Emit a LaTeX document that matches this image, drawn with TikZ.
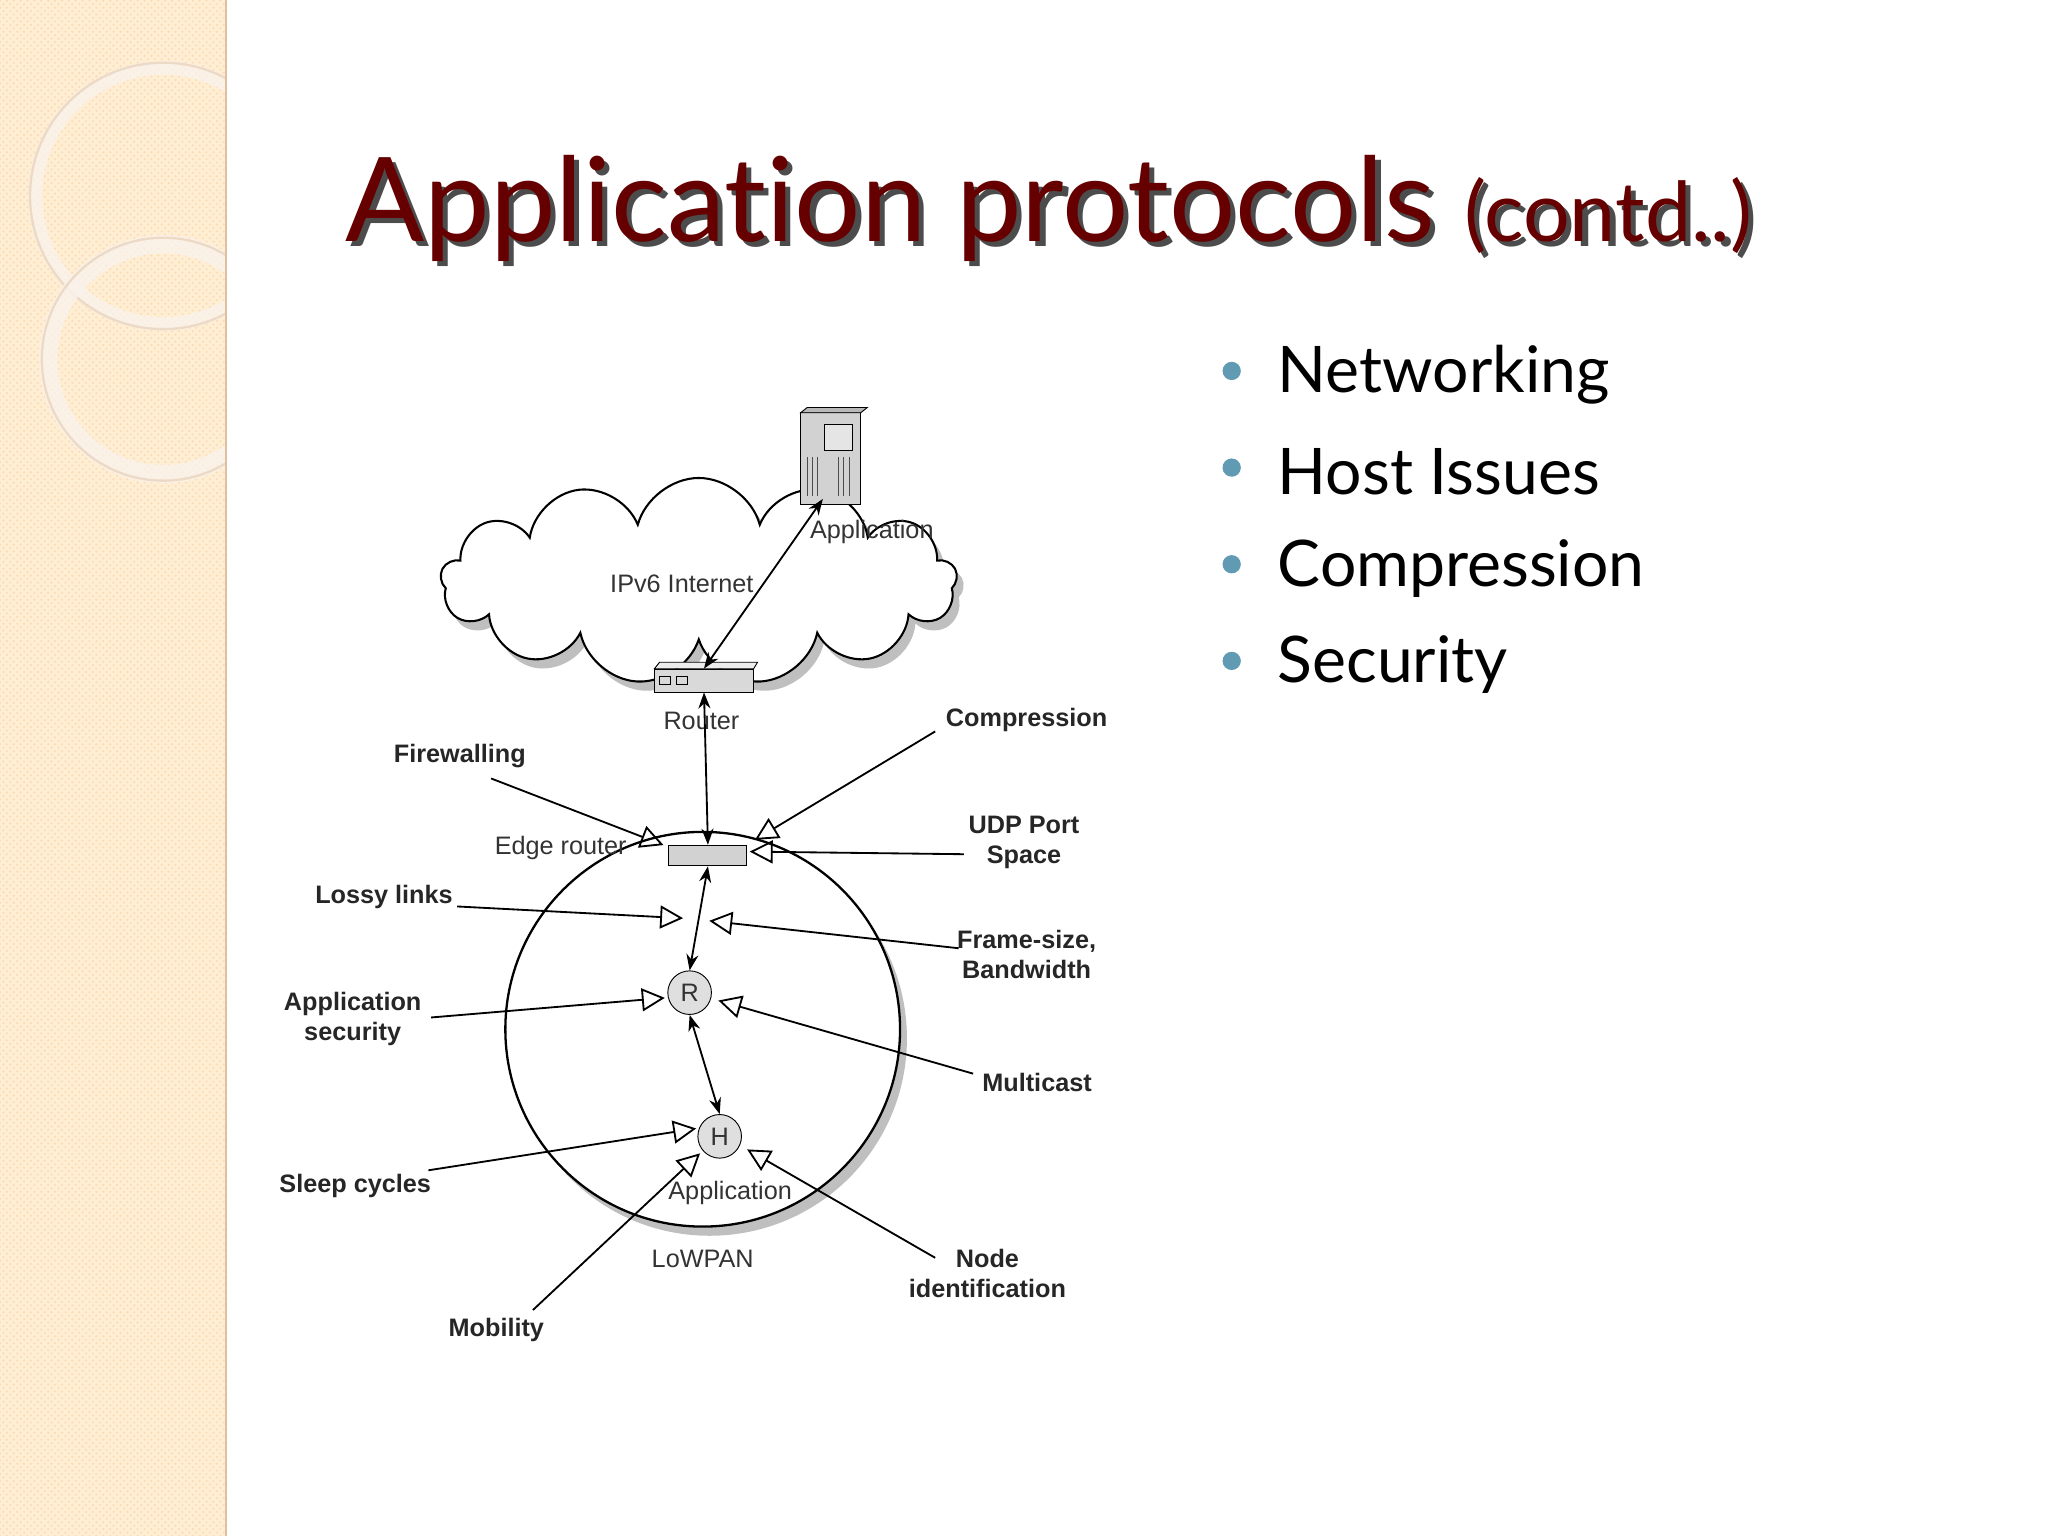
\documentclass[tikz,border=0pt]{standalone}
\usepackage{fontspec}
\setmainfont{Liberation Sans}
\newfontfamily\titlefont[Ligatures=NoCommon]{Lato}
\usetikzlibrary{arrows.meta,shadows,patterns,shapes.symbols}
\begin{document}
\begin{tikzpicture}[x=0.02cm,y=-0.02cm,
  lab/.style={font=\fontsize{11}{13}\selectfont\bfseries, align=center, text=black!85},
  plab/.style={font=\fontsize{11}{13}\selectfont, text=black!80},
  ln/.style={line width=0.8pt},
  oa/.style={ln,-{Triangle[open,length=10,width=10]}},
  da/.style={ln,{Stealth[length=7]}-{Stealth[length=7]}},
  bul/.style={font=\fontsize{28}{32}\selectfont\titlefont, anchor=west}]
\useasboundingbox (0,0) rectangle (1568,1176);
\fill[white] (0,0) rectangle (1568,1176);
% left band
\fill[yellow!20!orange!15!white] (0,0) rectangle (173,1176);
\fill[pattern=crosshatch dots, pattern color=orange!30] (0,0) rectangle (173,1176);
\draw[white!90!brown, line width=6pt, opacity=0.8] (125,150) circle (98);
\draw[brown!30, line width=1pt] (125,150) circle (102);
\draw[white!90!brown, line width=8pt, opacity=0.8] (125,275) circle (88);
\draw[brown!30, line width=1pt] (125,275) circle (93);
\fill[white] (173,0) rectangle (1568,1176);
\draw[brown!50, line width=1pt] (173,0) -- (173,1176);
% title
\node[anchor=base west, inner sep=0, text=black!70, font=\titlefont\fontsize{51}{54}\selectfont] (tsh) at (268,189) {Application protocols \fontsize{36}{38}\selectfont(contd..)};
\node[anchor=base west, inner sep=0, text=red!40!black, font=\titlefont\fontsize{51}{54}\selectfont] (title) at (264,185) {Application protocols \fontsize{36}{38}\selectfont(contd..)};
% bullets
\foreach \t/\y in {Networking/287,Host Issues/361,Compression/435,Security/509}{
  \fill[cyan!60!black!80] (943,\y-3) circle (7);
  \node[bul] at (972,\y) {\t};
}
% cloud
\node[cloud, cloud puffs=13, aspect=2.4, minimum width=225pt, minimum height=90pt, draw, fill=white, line width=0.9pt,
  drop shadow={shadow xshift=3pt, shadow yshift=-4pt, opacity=0.5}] (cloud) at (535,445) {};
\node[plab] (ipv6) at (522,447) {IPv6 Internet};
% server
\node[draw, fill=gray!35, minimum width=26pt, minimum height=40pt, inner sep=0] (srv) at (636,351) {};
\draw[fill=gray!55] (613,316)--(618,312)--(664,312)--(659,316)--cycle;
\draw[fill=gray!20] (631,325) rectangle (653,345);
\foreach \xx in {618,622,626,642,646,650} \draw[gray!60!black] (\xx,350) -- (\xx,380);
\node[plab, anchor=west] (appl) at (614,407) {Application};
% router
\node[draw, fill=gray!30, minimum width=43pt, minimum height=10pt, inner sep=0] (router) at (539,521) {};
\draw[fill=gray!15] (501,512)--(505,507)--(580,507)--(577,512)--cycle;
\draw (505,518) rectangle (513,524) (518,518) rectangle (526,524);
\node[plab] (rlab) at (537,552) {Router};
\draw[da] (630,382) -- (router.north);
% lowpan
\node[circle, draw, line width=1pt, minimum size=172pt, fill=white,
  drop shadow={shadow xshift=3pt, shadow yshift=-4pt, opacity=0.5}] (pan) at (538,788) {};
% edge router
\node[draw, fill=gray!35, minimum width=34pt, minimum height=9pt, inner sep=0] (edge) at (542,655) {};
\node[plab, anchor=east] (elab) at (486,649) {Edge router};
\draw[da] (router.south) -- (edge.north);
\node[circle, draw, fill=gray!25, minimum size=19pt, inner sep=0, plab] (R) at (528,760) {R};
\node[circle, draw, fill=gray!25, minimum size=19pt, inner sep=0, plab] (H) at (551,870) {H};
\node[plab] (happ) at (559,913) {Application};
\node[plab] (lp) at (538,964) {LoWPAN};
\draw[da] (edge.south) -- (R.north);
\draw[da] (R.south) -- (H.north);
% labels
\node[lab] (fw) at (352,579) {Firewalling};
\node[lab] (comp) at (786,551) {Compression};
\node[lab] (udp) at (784,645) {UDP Port\\Space};
\node[lab] (lossy) at (294,687) {Lossy links};
\node[lab] (frame) at (786,731) {Frame-size,\\Bandwidth};
\node[lab] (asec) at (270,780) {Application\\security};
\node[lab] (mc) at (794,829) {Multicast};
\node[lab] (sleep) at (272,908) {Sleep cycles};
\node[lab] (node) at (756,975) {Node\\identification};
\node[lab] (mob) at (380,1018) {Mobility};
\coordinate (c1) at (376,596); \coordinate (t1) at (508,647);
\coordinate (c2) at (716,560); \coordinate (t2) at (578,643);
\coordinate (c3) at (738,654); \coordinate (t3) at (574,652);
\coordinate (c4) at (350,694); \coordinate (t4) at (523,703);
\coordinate (c5) at (734,726); \coordinate (t5) at (543,705);
\coordinate (c6) at (330,779); \coordinate (t6) at (509,764);
\coordinate (c7) at (745,822); \coordinate (t7) at (550,766);
\coordinate (c8) at (328,896); \coordinate (t8) at (533,864);
\coordinate (c9) at (716,963); \coordinate (t9) at (572,880);
\coordinate (c10) at (408,1003); \coordinate (t10) at (536,883);
\foreach \i in {1,...,10} \draw[oa] (c\i) -- (t\i);
\end{tikzpicture}
\end{document}
